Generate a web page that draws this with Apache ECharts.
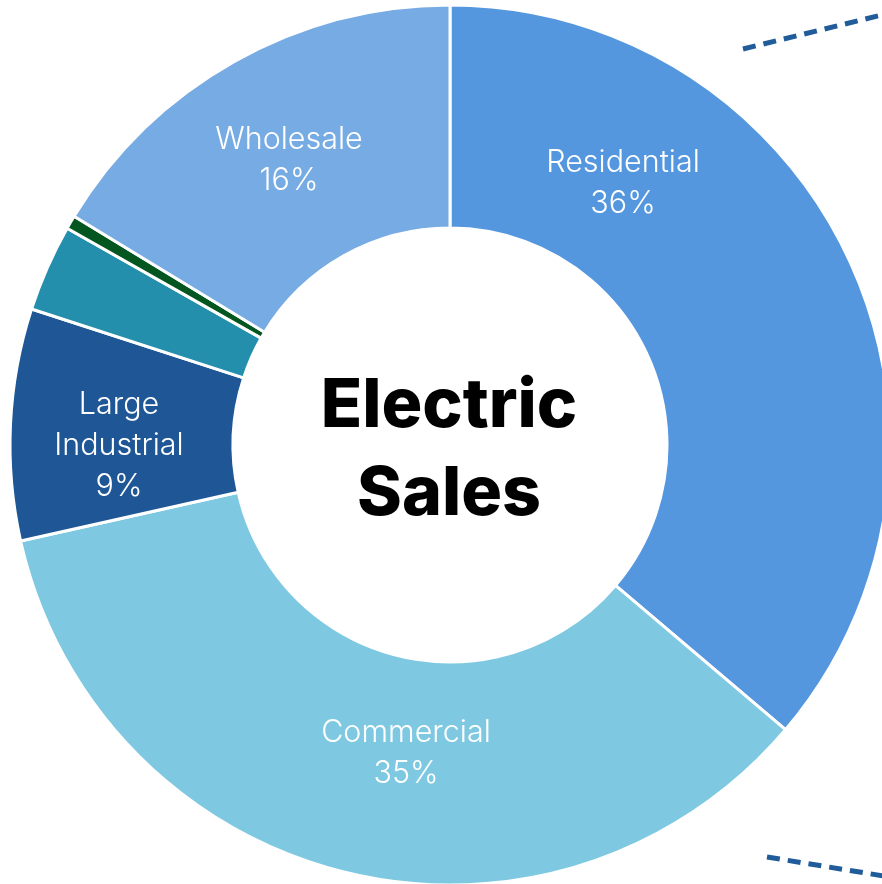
<!DOCTYPE html>
<html><head><meta charset="utf-8">
<script src="https://cdn.jsdelivr.net/npm/echarts@6/dist/echarts.min.js"></script>
<style>html,body{margin:0;padding:0;background:#fff}#c{width:882px;height:884px}</style>
</head><body><div id="c"></div>
<script>
const categories = ['Residential','Commercial','Large Industrial','Other Industrial','Lighting','Wholesale'];
const values = [36.2, 35.3, 8.5, 3.2, 0.5, 16.3];
const pctLabels = ['36%','35%','9%','','','16%'];
const nameLabels = ['Residential','Commercial','Large\nIndustrial','','','Wholesale'];
const colors = ['#5597DF','#7EC9E1','#1F5796','#248EAD','#03561F','#76ABE3'];
const labelPos = [[623,183],[406,753],[119,446],null,null,[289,160]];

const chart = echarts.init(document.getElementById('c'));
chart.setOption({
  animation:false,
  series:[{
    type:'pie',
    center:[450,445],
    radius:[217,440],
    startAngle:90,
    clockwise:true,
    avoidLabelOverlap:false,
    itemStyle:{borderColor:'#fff',borderWidth:3},
    label:{
      show:true, position:'inside', color:'#fff',
      fontFamily:'Inter', fontWeight:300, fontSize:30.5, lineHeight:41,
      formatter:p=> nameLabels[p.dataIndex] ? nameLabels[p.dataIndex]+'\n'+pctLabels[p.dataIndex] : ''
    },
    labelLine:{show:false},
    labelLayout:function(p){
      const lp = labelPos[p.dataIndex];
      if(!lp) return {};
      return {x:lp[0], y:lp[1], align:'center', verticalAlign:'middle'};
    },
    data: categories.map((c,i)=>({name:c, value:values[i], itemStyle:{color:colors[i]}}))
  }],
  graphic:[
    {type:'text', style:{text:'Electric\nSales', x:449, y:451, align:'center', verticalAlign:'middle', font:'800 68px Inter', lineHeight:88, fill:'#000'}},
    {type:'line', shape:{x1:743,y1:49,x2:890,y2:13}, style:{stroke:'#1F5C99', lineWidth:5, lineDash:[13,8]}},
    {type:'line', shape:{x1:767,y1:857,x2:890,y2:877}, style:{stroke:'#1F5C99', lineWidth:5, lineDash:[13,8]}}
  ]
});
</script></body></html>
